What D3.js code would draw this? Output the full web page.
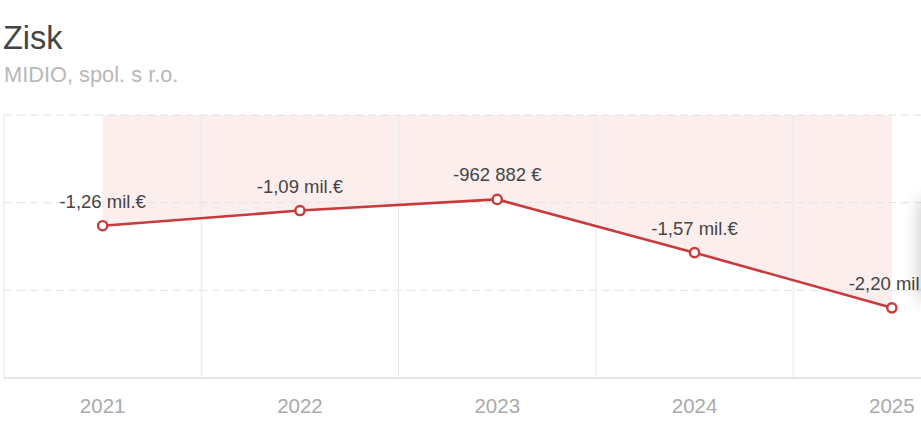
<!DOCTYPE html>
<html>
<head>
<meta charset="utf-8">
<script src="https://cdn.jsdelivr.net/npm/d3@7"></script>
<style>
  body { margin: 0; background: #fff; overflow: hidden; }
  text { font-family: "Liberation Sans", Arial, sans-serif; }
</style>
</head>
<body>
<div id="container"></div>
<script>
/* DATA */
const years = ["2021", "2022", "2023", "2024", "2025"];
const profit = [-1263000, -1090000, -962882, -1570000, -2200000];
const valueLabels = ["-1,26 mil.€", "-1,09 mil.€", "-962 882 €", "-1,57 mil.€", "-2,20 mil.€"];
const yTicks = [0, -1000000, -2000000, -3000000];

/* CONSTANTS */
const width = 921, height = 421,
  margin = { top: 115, bottom: 43, left: 4, right: -69.5 };

const svg = d3.select("#container")
  .append("svg")
  .attr("width", width)
  .attr("height", height);

// title + subtitle
svg.append("text")
  .attr("x", 3).attr("y", 49)
  .attr("font-size", 32.5)
  .attr("fill", "#444")
  .text("Zisk");

svg.append("text")
  .attr("x", 4).attr("y", 82)
  .attr("font-size", 21.8)
  .attr("fill", "#b8b8b8")
  .text("MIDIO, spol. s r.o.");

// SCALES (plot runs past the right edge, like the cropped original)
const x = d3.scaleBand()
  .domain(years)
  .range([margin.left, width - margin.right])
  .padding(0);

const y = d3.scaleLinear()
  .domain([0, -3000000])
  .range([margin.top, height - margin.bottom]);

const cx = d => x(d) + x.bandwidth() / 2;

// pink area between zero and the values
const area = d3.area()
  .x((d, i) => cx(years[i]))
  .y0(y(0))
  .y1(d => y(d));

svg.append("path")
  .datum(profit)
  .attr("d", area)
  .attr("fill", "#fdecec")
  .attr("opacity", 0.9);

// vertical grid at band edges
svg.append("g")
  .selectAll("line")
  .data(years)
  .join("line")
  .attr("x1", d => x(d)).attr("x2", d => x(d))
  .attr("y1", y(0)).attr("y2", y(-3000000))
  .attr("stroke", "#e8e8e8")
  .attr("stroke-width", 1);

// horizontal grid
svg.append("g")
  .selectAll("line")
  .data(yTicks)
  .join("line")
  .attr("x1", margin.left).attr("x2", width)
  .attr("y1", d => y(d)).attr("y2", d => y(d))
  .attr("stroke", d => d === -3000000 ? "#dcdcdc" : "#e2e2e2")
  .attr("stroke-width", d => d === -3000000 ? 1.5 : 1)
  .attr("stroke-dasharray", d => d === -3000000 ? null : "8,5");

// x axis labels
const xAxis = d3.axisBottom(x).tickSize(0).tickPadding(0);
const gx = svg.append("g")
  .attr("transform", `translate(0, ${y(-3000000)})`)
  .call(xAxis);
gx.select(".domain").remove();
gx.selectAll("text")
  .attr("y", 35)
  .attr("dy", 0)
  .attr("font-size", 20.5)
  .attr("fill", "#aaa")
  .attr("font-family", "Liberation Sans, Arial, sans-serif");

// line
const line = d3.line()
  .x((d, i) => cx(years[i]))
  .y(d => y(d));

svg.append("path")
  .datum(profit)
  .attr("d", line)
  .attr("fill", "none")
  .attr("stroke", "#c93a3c")
  .attr("stroke-width", 2.6);

// points
svg.selectAll("circle.pt")
  .data(profit)
  .join("circle")
  .attr("class", "pt")
  .attr("cx", (d, i) => cx(years[i]))
  .attr("cy", d => y(d))
  .attr("r", 4.6)
  .attr("fill", "#fff")
  .attr("stroke", "#c93a3c")
  .attr("stroke-width", 2.4);

// value labels
svg.selectAll("text.val")
  .data(profit)
  .join("text")
  .attr("class", "val")
  .attr("x", (d, i) => cx(years[i]))
  .attr("y", d => y(d) - 18)
  .attr("text-anchor", "middle")
  .attr("font-size", 18.5)
  .attr("fill", "#444")
  .text((d, i) => valueLabels[i]);

// faint blurred shadow of a box at the right edge
const defs = svg.append("defs");
defs.append("filter").attr("id", "blur")
  .attr("x", "-50%").attr("y", "-50%").attr("width", "200%").attr("height", "200%")
  .append("feGaussianBlur").attr("stdDeviation", 8);
svg.append("rect")
  .attr("x", 918).attr("y", 200)
  .attr("width", 30).attr("height", 100)
  .attr("fill", "#000")
  .attr("opacity", 0.18)
  .attr("filter", "url(#blur)");
</script>
</body>
</html>
